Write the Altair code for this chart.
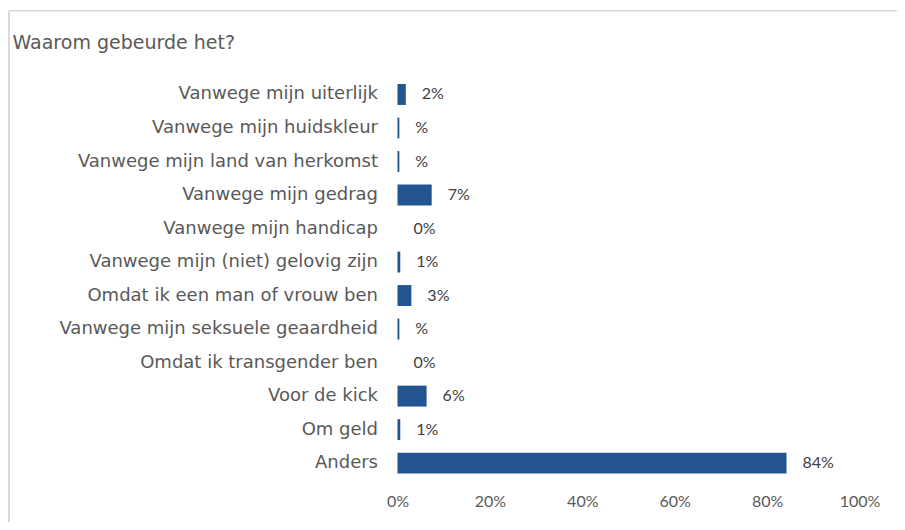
import altair as alt
import pandas as pd

categories = [
    "Vanwege mijn uiterlijk",
    "Vanwege mijn huidskleur",
    "Vanwege mijn land van herkomst",
    "Vanwege mijn gedrag",
    "Vanwege mijn handicap",
    "Vanwege mijn (niet) gelovig zijn",
    "Omdat ik een man of vrouw ben",
    "Vanwege mijn seksuele geaardheid",
    "Omdat ik transgender ben",
    "Voor de kick",
    "Om geld",
    "Anders",
]
values = [0.018, 0.004, 0.004, 0.074, 0.0, 0.006, 0.030, 0.004, 0.0, 0.063, 0.006, 0.842]
value_labels = ["2%", "%", "%", "7%", "0%", "1%", "3%", "%", "0%", "6%", "1%", "84%"]
title_text = "Waarom gebeurde het?"

df = pd.DataFrame({"cat": categories, "val": values, "lab": value_labels})

W = 462
H = 403
PAD_L = 389.5
PAD_T = 69.3
PAD_R = 905 - 8 - PAD_L - W - 8
PAD_B = 514 - PAD_T - H

y_enc = alt.Y(
    "cat:N",
    sort=categories,
    title=None,
    scale=alt.Scale(paddingInner=0.375, paddingOuter=0.2),
    axis=alt.Axis(
        domain=False, ticks=False, labelPadding=20, labelFont="DejaVu Sans",
        labelFontSize=18, labelColor="#595959", labelLimit=400,
    ),
)
x_enc = alt.X(
    "val:Q",
    title=None,
    scale=alt.Scale(domain=[0, 1], nice=False),
    axis=alt.Axis(
        format=".0%", values=[0, 0.2, 0.4, 0.6, 0.8, 1.0], domain=False, ticks=False,
        grid=False, labelPadding=13, labelFont="Lato", labelFontSize=16,
        labelColor="#595959", labelFlush=False,
    ),
)

bars = alt.Chart(df).mark_bar(color="#22558f").encode(x=x_enc, y=y_enc)
labels = alt.Chart(df).mark_text(
    align="left", baseline="middle", dx=16, font="Lato", fontSize=16, color="#404040"
).encode(x="val:Q", y=alt.Y("cat:N", sort=categories), text="lab:N")

title = alt.Chart(pd.DataFrame({"t": [title_text]})).mark_text(
    align="left", baseline="alphabetic", font="DejaVu Sans", fontSize=19, color="#595959"
).encode(x=alt.value(12.5 - 8 - PAD_L), y=alt.value(49 - 8 - PAD_T), text="t:N")

frame_top = alt.Chart(pd.DataFrame({"a": [0]})).mark_rule(color="#d9d9d9", strokeWidth=1.5).encode(
    x=alt.value(9 - 8 - PAD_L), x2=alt.value(W + PAD_R + 20), y=alt.value(10.8 - 8 - PAD_T)
)
frame_left = alt.Chart(pd.DataFrame({"a": [0]})).mark_rule(color="#d9d9d9", strokeWidth=2).encode(
    x=alt.value(9 - 8 - PAD_L), y=alt.value(10.8 - 8 - PAD_T), y2=alt.value(H + PAD_B + 20)
)

chart = alt.layer(frame_top, frame_left, title, bars, labels).properties(
    width=W, height=H,
    background="white",
    autosize=alt.AutoSizeParams(type="none"),
    padding={"left": PAD_L, "top": PAD_T, "right": PAD_R, "bottom": PAD_B},
).configure_view(strokeWidth=0)

chart.save("out.html", embed_options={"renderer": "svg", "actions": False})
